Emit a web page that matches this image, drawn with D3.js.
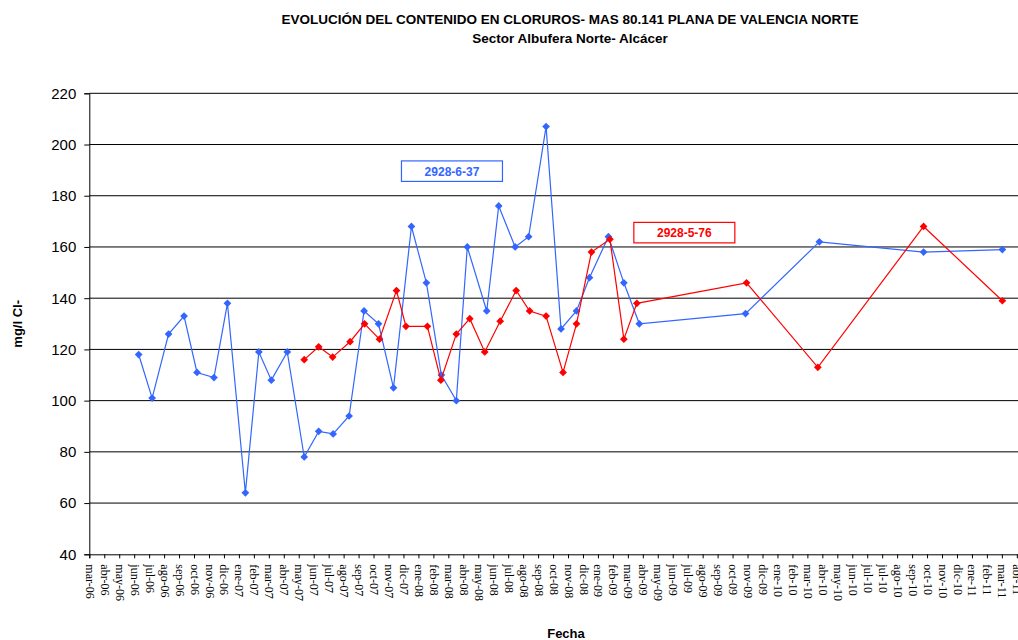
<!DOCTYPE html>
<html>
<head>
<meta charset="utf-8">
<script src="https://cdn.jsdelivr.net/npm/d3@7"></script>
<style>
    body { margin: 0; background: #fff; }
    svg { display: block; }
</style>
</head>
<body>
<svg id="drawing_region"></svg>
<script>
// eje X: fechas cada 30 dias a partir del 24-mar-2006 (como en la hoja original)
const tickLabels = ["mar-06","abr-06","may-06","jun-06","jul-06","ago-06","sep-06","oct-06","nov-06","dic-06",
    "ene-07","feb-07","mar-07","abr-07","may-07","jun-07","jul-07","ago-07","sep-07","oct-07","nov-07","dic-07",
    "ene-08","feb-08","mar-08","abr-08","may-08","jun-08","jul-08","ago-08","sep-08","oct-08","nov-08","dic-08",
    "ene-09","feb-09","mar-09","abr-09","may-09","jun-09","jul-09","ago-09","sep-09","oct-09","nov-09","dic-09",
    "ene-10","feb-10","mar-10","abr-10","may-10","jun-10","jul-10","jul-10","ago-10","sep-10","oct-10","nov-10","dic-10",
    "ene-11","feb-11","mar-11","abr-11"];
const yTicks = [40, 60, 80, 100, 120, 140, 160, 180, 200, 220];

// pozo 2928-6-37
const blueDates = ["2006-07-01","2006-07-28","2006-08-30","2006-09-30","2006-10-26","2006-11-29","2006-12-26",
    "2007-01-31","2007-02-27","2007-03-24","2007-04-25","2007-05-29","2007-06-27","2007-07-26","2007-08-27",
    "2007-09-26","2007-10-25","2007-11-24","2007-12-30","2008-01-29","2008-02-28","2008-03-29","2008-04-20",
    "2008-05-29","2008-06-22","2008-07-25","2008-08-21","2008-09-25","2008-10-25","2008-11-25","2008-12-21",
    "2009-01-28","2009-02-28","2009-03-31","2009-10-30","2010-03-27","2010-10-22","2011-03-29"];
const blueValues = [118, 101, 126, 133, 111, 109, 138,
    64, 119, 108, 119, 78, 88, 87, 94,
    135, 130, 105, 168, 146, 110, 100, 160,
    135, 176, 160, 164, 207, 128, 135, 148,
    164, 146, 130, 134, 162, 158, 159];

// pozo 2928-5-76
const redDates = ["2007-05-29","2007-06-27","2007-07-25","2007-08-29","2007-09-27","2007-10-27","2007-11-30",
    "2007-12-19","2008-01-31","2008-02-27","2008-03-29","2008-04-25","2008-05-25","2008-06-25","2008-07-27",
    "2008-08-23","2008-09-25","2008-10-29","2008-11-25","2008-12-25","2009-01-31","2009-02-28","2009-03-26",
    "2009-11-01","2010-03-24","2010-10-22","2011-03-29"];
const redValues = [116, 121, 117, 123, 130, 124, 143,
    129, 129, 108, 126, 132, 119, 131, 143,
    135, 133, 111, 130, 158, 163, 124, 138,
    146, 113, 168, 139];

const seriesNames = ["2928-6-37", "2928-5-76"];
const seriesColors = ["#3366ff", "#ff0000"];
// esquina superior izquierda de cada etiqueta (fecha, valor)
const labelAnchors = [["2007-12-10", 193.6], ["2009-03-20", 169.6]];

const parseDate = d3.timeParse("%Y-%m-%d");
const axisStart = new Date(2006, 2, 24);

const series = [
    { name: seriesNames[0], color: seriesColors[0],
      values: blueDates.map((d, i) => ({ date: parseDate(d), value: blueValues[i] })) },
    { name: seriesNames[1], color: seriesColors[1],
      values: redDates.map((d, i) => ({ date: parseDate(d), value: redValues[i] })) }
];

class LineChart {
    constructor( config, data ) {
        this.config = {
            parent: config.parent,
            width: config.width || 1018,
            height: config.height || 640,
            margin: config.margin || {top:93, right:0, bottom:86, left:89.3},
            title: config.title || '',
            subtitle: config.subtitle || '',
        };
        this.data = data;
        this.init();
    }
    init() {
        let self = this;
        self.svg = d3.select( self.config.parent )
            .attr('width', self.config.width)
            .attr('height', self.config.height);
        self.chart = self.svg.append('g')
            .attr('transform', `translate(${self.config.margin.left}, ${self.config.margin.top})`);
        self.inner_height = self.config.height - self.config.margin.top - self.config.margin.bottom;

        const step = 14.96;   // px por intervalo de 30 dias
        const span = 62.4;
        self.inner_width = step * span;
        self.tickDates = tickLabels.map( (l, i) => d3.timeDay.offset(axisStart, 30 * i) );

        self.xscale = d3.scaleTime()
            .domain([axisStart, new Date(+axisStart + span * 30 * 864e5)])
            .range([0, self.inner_width]);
        self.yscale = d3.scaleLinear()
            .domain([40, 220])
            .range([self.inner_height, 0]);

        self.svg.append('text')
            .style('font-family', '"Liberation Sans", Arial, sans-serif')
            .style('font-size', '13.5px')
            .style('font-weight', 'bold')
            .attr('text-anchor', 'middle')
            .attr('x', 570)
            .attr('y', 24)
            .text( self.config.title );
        self.svg.append('text')
            .style('font-family', '"Liberation Sans", Arial, sans-serif')
            .style('font-size', '13.5px')
            .style('font-weight', 'bold')
            .attr('text-anchor', 'middle')
            .attr('x', 570)
            .attr('y', 43)
            .text( self.config.subtitle );
    }
    render() {
        let self = this;
        const W = self.inner_width, H = self.inner_height;

        // lineas de division
        self.chart.append('g')
            .selectAll('line')
            .data(yTicks.filter(v => v > 40))
            .join('line')
            .attr('x1', 0).attr('x2', W)
            .attr('y1', d => self.yscale(d)).attr('y2', d => self.yscale(d))
            .attr('stroke', '#000').attr('stroke-width', 1);

        const yaxis = d3.axisLeft(self.yscale).tickValues(yTicks).tickSize(5).tickPadding(8);
        const yg = self.chart.append('g').call(yaxis);
        yg.select('.domain').attr('stroke', '#000');
        yg.selectAll('text')
            .style('font-family', '"Liberation Sans", Arial, sans-serif')
            .style('font-size', '15px')
            .attr('fill', '#000');

        const xaxis = d3.axisBottom(self.xscale)
            .tickValues(self.tickDates)
            .tickSize(4)
            .tickFormat((d, i) => tickLabels[i]);
        const xg = self.chart.append('g')
            .attr('transform', `translate(0, ${H})`)
            .call(xaxis);
        xg.select('.domain').attr('stroke', '#000');
        xg.selectAll('text')
            .style('font-family', '"Liberation Serif", "Times New Roman", serif')
            .style('font-size', '12px')
            .attr('fill', '#000')
            .attr('text-anchor', 'start')
            .attr('transform', 'rotate(90)')
            .attr('x', 10)
            .attr('y', 0)
            .attr('dy', '0.33em');

        const line = d3.line()
            .x(d => self.xscale(d.date))
            .y(d => self.yscale(d.value));
        const diamond = d3.symbol(d3.symbolSquare, 30);

        self.data.forEach( s => {
            self.chart.append('path')
                .datum(s.values)
                .attr('d', line)
                .attr('fill', 'none')
                .attr('stroke', s.color)
                .attr('stroke-width', 1.2);
            self.chart.append('g')
                .selectAll('path')
                .data(s.values)
                .join('path')
                .attr('d', diamond)
                .attr('transform', d => `translate(${self.xscale(d.date)},${self.yscale(d.value)}) rotate(45)`)
                .attr('fill', s.color);
        });

        // etiquetas de los pozos
        self.data.forEach( (s, i) => {
            const lx = self.xscale(parseDate(labelAnchors[i][0]));
            const ly = self.yscale(labelAnchors[i][1]);
            const g = self.chart.append('g').attr('transform', `translate(${lx},${ly})`);
            g.append('rect')
                .attr('width', 101).attr('height', 20.5)
                .attr('fill', '#fff')
                .attr('stroke', s.color)
                .attr('stroke-width', 1.2);
            g.append('text')
                .attr('x', 50.5).attr('y', 15)
                .attr('text-anchor', 'middle')
                .style('font-family', '"Liberation Sans", Arial, sans-serif')
                .style('font-size', '12px')
                .style('font-weight', 'bold')
                .attr('fill', s.color)
                .text(s.name);
        });

        // titulos de ejes
        self.svg.append('text')
            .attr('transform', `translate(22, ${self.config.margin.top + H / 2}) rotate(-90)`)
            .attr('text-anchor', 'middle')
            .style('font-family', '"Liberation Sans", Arial, sans-serif')
            .style('font-size', '13px')
            .style('font-weight', 'bold')
            .text('mg/l Cl-');
        self.svg.append('text')
            .attr('x', 566).attr('y', 638)
            .attr('text-anchor', 'middle')
            .style('font-family', '"Liberation Sans", Arial, sans-serif')
            .style('font-size', '13px')
            .style('font-weight', 'bold')
            .text('Fecha');
    }
}

const chart = new LineChart({
    parent: '#drawing_region',
    width: 1018,
    height: 640,
    margin: {top:93.3, right:0, bottom:85.7, left:89.3},
    title: 'EVOLUCIÓN DEL CONTENIDO EN CLORUROS- MAS 80.141 PLANA DE VALENCIA NORTE',
    subtitle: 'Sector Albufera Norte- Alcácer',
}, series);
chart.render();
</script>
</body>
</html>
